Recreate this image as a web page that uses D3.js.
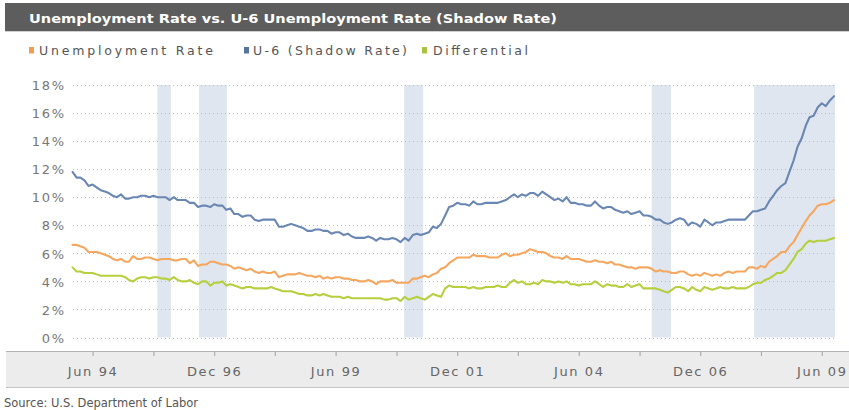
<!DOCTYPE html>
<html><head><meta charset="utf-8">
<script src="https://cdn.jsdelivr.net/npm/d3@7"></script>
<style>body{margin:0;background:#fff}svg{display:block}</style>
</head><body><svg id="c" width="849" height="410"></svg>
<script>
const titleText = "Unemployment Rate vs. U-6 Unemployment Rate (Shadow Rate)";
const sourceText = "Source: U.S. Department of Labor";
const seriesNames = ["Unemployment Rate", "U-6 (Shadow Rate)", "Differential"];
const firstMonth = "1994-01";
const lastMonth = "2009-09";
const unemployment = [
 6.6,6.6,6.5,6.4,6.1,6.1,6.1,6.0,5.9,5.8,5.6,5.5,
 5.6,5.4,5.4,5.8,5.6,5.6,5.7,5.7,5.6,5.5,5.6,5.6,
 5.6,5.5,5.5,5.6,5.6,5.3,5.5,5.1,5.2,5.2,5.4,5.4,
 5.3,5.2,5.2,5.1,4.9,5.0,4.9,4.8,4.9,4.7,4.6,4.7,
 4.6,4.6,4.7,4.3,4.4,4.5,4.5,4.5,4.6,4.5,4.4,4.4,
 4.3,4.4,4.2,4.3,4.2,4.3,4.3,4.2,4.2,4.1,4.1,4.0,
 4.0,4.1,4.0,3.8,4.0,4.0,4.0,4.1,3.9,3.9,3.9,3.9,
 4.2,4.2,4.3,4.4,4.3,4.5,4.6,4.9,5.0,5.3,5.5,5.7,
 5.7,5.7,5.7,5.9,5.8,5.8,5.8,5.7,5.7,5.7,5.9,6.0,
 5.8,5.9,5.9,6.0,6.1,6.3,6.2,6.1,6.1,6.0,5.8,5.7,
 5.7,5.6,5.8,5.6,5.6,5.6,5.5,5.4,5.4,5.5,5.4,5.4,
 5.3,5.4,5.2,5.2,5.1,5.0,5.0,4.9,5.0,5.0,5.0,4.9,
 4.7,4.8,4.7,4.7,4.6,4.6,4.7,4.7,4.5,4.4,4.5,4.4,
 4.6,4.5,4.4,4.5,4.4,4.6,4.7,4.6,4.7,4.7,4.7,5.0,
 5.0,4.9,5.1,5.0,5.4,5.6,5.8,6.1,6.1,6.5,6.8,7.3,
 7.8,8.3,8.7,9.0,9.4,9.5,9.5,9.6,9.8
];
const shadowRate = [
 11.8,11.4,11.4,11.2,10.8,10.9,10.7,10.5,10.4,10.3,10.1,10.0,
 10.2,9.9,9.9,10.0,10.0,10.1,10.1,10.0,10.1,10.0,10.0,10.0,
 9.8,10.0,9.8,9.8,9.8,9.6,9.6,9.3,9.4,9.4,9.3,9.5,
 9.4,9.4,9.1,9.2,8.8,8.8,8.6,8.7,8.7,8.4,8.3,8.4,
 8.4,8.4,8.4,7.9,7.9,8.0,8.1,8.0,7.9,7.8,7.6,7.6,
 7.7,7.7,7.6,7.6,7.4,7.5,7.5,7.3,7.4,7.2,7.1,7.1,
 7.1,7.2,7.1,6.9,7.1,7.0,7.0,7.1,7.0,6.8,7.1,6.9,
 7.3,7.4,7.3,7.4,7.5,7.9,7.8,8.1,8.7,9.3,9.4,9.6,
 9.5,9.5,9.4,9.7,9.5,9.5,9.6,9.6,9.6,9.6,9.7,9.8,
 10.0,10.2,10.0,10.2,10.1,10.3,10.3,10.1,10.4,10.2,10.0,9.8,
 9.9,9.7,10.0,9.6,9.6,9.5,9.5,9.4,9.4,9.7,9.4,9.2,
 9.3,9.3,9.1,9.0,8.9,9.0,8.8,8.9,9.0,8.7,8.7,8.6,
 8.4,8.4,8.2,8.1,8.2,8.4,8.5,8.4,8.0,8.2,8.1,7.9,
 8.4,8.2,8.0,8.2,8.2,8.3,8.4,8.4,8.4,8.4,8.4,8.7,
 9.0,9.0,9.1,9.2,9.7,10.1,10.5,10.8,11.0,11.8,12.6,13.6,
 14.2,15.1,15.7,15.8,16.4,16.7,16.5,16.9,17.2
];
const differential = [
 5.0,4.7,4.7,4.6,4.6,4.6,4.5,4.4,4.4,4.4,4.4,4.4,
 4.4,4.3,4.1,4.0,4.2,4.3,4.3,4.2,4.3,4.3,4.2,4.2,
 4.1,4.3,4.1,4.0,4.0,4.1,3.9,3.8,4.0,4.0,3.7,3.9,
 3.9,4.0,3.7,3.8,3.7,3.6,3.5,3.6,3.6,3.5,3.5,3.5,
 3.5,3.6,3.5,3.4,3.3,3.3,3.3,3.2,3.1,3.1,3.0,3.0,
 3.1,3.0,3.1,3.0,2.9,2.9,2.9,2.8,2.9,2.8,2.8,2.8,
 2.8,2.8,2.8,2.8,2.8,2.7,2.7,2.8,2.8,2.6,2.9,2.7,
 2.8,2.9,2.8,2.7,2.9,3.1,3.0,2.9,3.5,3.7,3.6,3.6,
 3.6,3.6,3.5,3.6,3.5,3.5,3.6,3.6,3.6,3.7,3.6,3.6,
 3.9,4.1,3.9,4.0,3.8,3.8,3.9,3.8,4.1,4.0,4.0,3.9,
 4.0,3.9,4.0,3.8,3.8,3.7,3.8,3.8,3.8,4.0,3.8,3.6,
 3.8,3.7,3.7,3.6,3.6,3.8,3.6,3.7,3.8,3.5,3.5,3.5,
 3.5,3.4,3.3,3.2,3.4,3.6,3.6,3.5,3.3,3.6,3.4,3.3,
 3.6,3.5,3.4,3.5,3.6,3.5,3.5,3.6,3.5,3.5,3.5,3.6,
 3.8,3.9,3.9,4.1,4.2,4.4,4.6,4.6,4.8,5.2,5.6,6.1,
 6.3,6.7,6.9,6.8,6.9,6.9,6.9,7.0,7.1
];
const yTicks = [0, 2, 4, 6, 8, 10, 12, 14, 16, 18];
const xTickDates = ["1994-06","1995-09","1996-12","1998-03","1999-06","2000-09","2001-12","2003-03","2004-06","2005-09","2006-12","2008-03","2009-06"];
const xTickLabels = ["Jun 94","","Dec 96","","Jun 99","","Dec 01","","Jun 04","","Dec 06","","Jun 09"];
const shadedPeriods = [
 ["1995-10-01","1996-01-10"],
 ["1996-08-08","1997-03-06"],
 ["2000-10-28","2001-03-20"],
 ["2005-12-01","2006-04-25"],
 ["2008-01-10","2009-09-01"]
];
const lineColors = ["#f5a760", "#6a87b3", "#b6cf3e"];
const legendColors = ["#f29d50", "#56749f", "#a9c23f"];

const svg = d3.select("#c");
const pMonth = d3.timeParse("%Y-%m");
const pDay = d3.timeParse("%Y-%m-%d");
const months = d3.timeMonth.range(pMonth(firstMonth), d3.timeMonth.offset(pMonth(lastMonth), 1));

const x = d3.scaleTime().domain([pMonth(firstMonth), pMonth(lastMonth)]).range([72.5, 834]);
const y = d3.scaleLinear().domain([0, 18]).range([337.5, 85]);
const plotL = 73, plotR = 835;

// title bar
svg.append("rect").attr("x", 5).attr("y", 3).attr("width", 844).attr("height", 28).attr("fill", "#5d5d5d");
svg.append("line").attr("x1", 5).attr("x2", 849).attr("y1", 31.5).attr("y2", 31.5).attr("stroke", "#d0d0d0");
svg.append("text").attr("x", 29).attr("y", 22.5).text(titleText)
  .attr("font-family", "DejaVu Sans, Verdana, sans-serif").attr("font-weight", "bold")
  .attr("font-size", 13).attr("fill", "#fff")
  .attr("textLength", 528).attr("lengthAdjust", "spacingAndGlyphs");

// legend
const legX = [[29, 39, 174], [244, 253, 154], [422, 433, 95]];
seriesNames.forEach((n, i) => {
  svg.append("rect").attr("x", legX[i][0]).attr("y", 47).attr("width", 5).attr("height", 6.5).attr("fill", legendColors[i]);
  svg.append("text").attr("x", legX[i][1]).attr("y", 54.5).text(n)
    .attr("font-family", "DejaVu Sans, Verdana, sans-serif").attr("font-size", 12.5).attr("fill", "#555")
    .attr("textLength", legX[i][2]).attr("lengthAdjust", "spacing");
});

// shaded periods
svg.append("g").selectAll("rect").data(shadedPeriods).join("rect")
  .attr("x", d => x(pDay(d[0])))
  .attr("width", d => Math.min(plotR, x(pDay(d[1]))) - x(pDay(d[0])) + (d[1] === "2009-09-01" ? 1 : 0))
  .attr("y", y(18)).attr("height", y(0) - y(18))
  .attr("fill", "#e0e6ef");

// grid
svg.append("g").selectAll("line").data(yTicks).join("line")
  .attr("x1", plotL).attr("x2", plotR)
  .attr("y1", d => Math.round(y(d)) + 0.5).attr("y2", d => Math.round(y(d)) + 0.5)
  .attr("stroke", "#bdbdbd").attr("stroke-dasharray", "1,3");

// y axis labels
const yAxis = svg.append("g").attr("transform", "translate(66,0)")
  .call(d3.axisLeft(y).tickValues(yTicks).tickFormat(d => d + "%").tickSize(0).tickPadding(0));
yAxis.select(".domain").remove();
yAxis.selectAll("text").attr("font-family", "DejaVu Sans, Verdana, sans-serif").attr("font-size", 13)
  .attr("fill", "#777").style("letter-spacing", "1.8px").attr("dy", "0.36em");

// lines
const series = [unemployment, shadowRate, differential];
const line = d3.line().x((d, i) => x(months[i])).y(d => y(d));
[1, 0, 2].forEach(k => {
  svg.append("path").datum(series[k]).attr("d", line)
    .attr("fill", "none").attr("stroke", lineColors[k]).attr("stroke-width", 2.1)
    .attr("stroke-linejoin", "round").attr("stroke-linecap", "round");
});

// x axis band
svg.append("rect").attr("x", 6).attr("y", 352).attr("width", 843).attr("height", 36).attr("fill", "#ececec");
svg.append("line").attr("x1", 6).attr("x2", 849).attr("y1", 351.5).attr("y2", 351.5).attr("stroke", "#b4b4b4");
svg.append("line").attr("x1", 6).attr("x2", 849).attr("y1", 387.5).attr("y2", 387.5).attr("stroke", "#c6c6c6");
const xAxis = svg.append("g").attr("transform", "translate(0,352)")
  .call(d3.axisBottom(x).tickValues(xTickDates.map(pMonth)).tickFormat((d, i) => xTickLabels[i]).tickSize(4).tickPadding(11));
xAxis.select(".domain").remove();
xAxis.selectAll("line").attr("stroke", "#a0a0a0");
xAxis.selectAll("text").attr("font-family", "DejaVu Sans, Verdana, sans-serif").attr("font-size", 13)
  .attr("fill", "#666").style("letter-spacing", "1.6px");

// source
svg.append("text").attr("x", 4).attr("y", 407).text(sourceText)
  .attr("font-family", "DejaVu Sans, Verdana, sans-serif").attr("font-size", 11.5).attr("fill", "#555")
  .attr("textLength", 194).attr("lengthAdjust", "spacing");
</script></body></html>
